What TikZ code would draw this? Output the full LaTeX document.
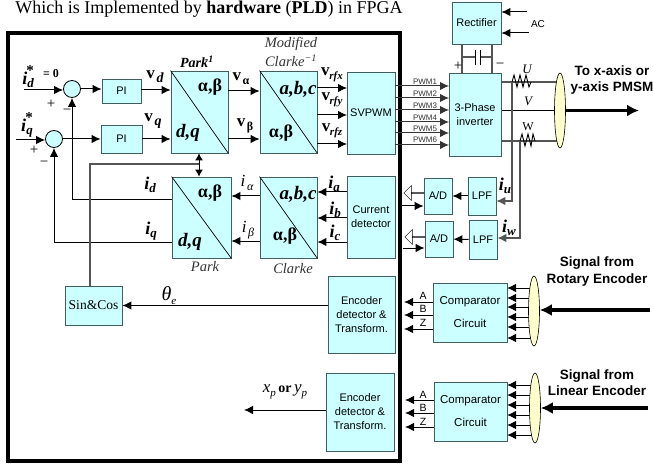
\documentclass[tikz,border=0pt]{standalone}
\usepackage{fontspec}
\setmainfont{Liberation Serif}
\setsansfont{Liberation Sans}
\usetikzlibrary{arrows.meta,backgrounds,shapes.arrows,shapes.geometric}
\definecolor{cyanfill}{HTML}{CCFFFF}
\definecolor{creamfill}{HTML}{FFFFCC}
\definecolor{edgegrey}{HTML}{3F5F5F}
\definecolor{wiregrey}{HTML}{555555}
\newcommand{\isub}[2]{{\fontsize{18}{18}\selectfont\bfseries\itshape #1}\raisebox{-3pt}{\fontsize{13}{13}\selectfont\bfseries\itshape #2}}
\newcommand{\vsub}[2]{{\fontsize{17}{17}\selectfont\bfseries v}\,\raisebox{-4pt}{\fontsize{#1}{#1}\selectfont\bfseries #2}}
\newcommand{\thinsub}[2]{{\fontsize{17}{17}\selectfont\itshape #1}\,\raisebox{-4pt}{\fontsize{12}{12}\selectfont\itshape #2}}
\tikzset{
  blk/.style={draw=edgegrey, fill=cyanfill, line width=.8pt, inner sep=0pt, align=center, font=\sffamily\fontsize{11}{14}\selectfont},
  sumj/.style={circle, draw=black, fill=cyanfill, line width=.8pt, minimum size=17pt, inner sep=0pt},
  lens/.style={ellipse, draw=black, fill=creamfill, line width=.6pt, inner sep=0pt, minimum width=11pt},
  arr/.style={-{Latex[length=9pt,width=8.5pt]}, line width=1pt},
  bigarr/.style={-{Latex[length=12pt,width=12pt]}, line width=3.2pt},
  wire/.style={draw=wiregrey, line width=1.1pt},
  lab/.style={inner sep=0pt},
  symb/.style={inner sep=0pt, font=\fontsize{18}{18}\selectfont\bfseries},
  abc/.style={inner sep=0pt, font=\fontsize{19}{19}\selectfont\bfseries\itshape},
  capt/.style={inner sep=0pt, align=center, font=\fontsize{14.5}{18}\selectfont\itshape, text=black!80},
  pwm/.style={inner sep=0pt, font=\sffamily\fontsize{8}{8}\selectfont, text=black!80},
  tiny/.style={inner sep=0pt, font=\sffamily\fontsize{10.5}{10.5}\selectfont},
  head/.style={inner sep=0pt, align=center, font=\sffamily\bfseries\fontsize{13.5}{16.5}\selectfont},
  hollow/.style={single arrow, draw=black, fill=white, shape border rotate=180, minimum height=20pt, minimum width=15pt, single arrow head extend=4pt, inner sep=0pt},
}
\begin{document}
\begin{tikzpicture}[x=1pt,y=-1pt]
  \useasboundingbox (0,0) rectangle (653,465);

  % Frame and heading
  \node[draw, line width=4pt, inner sep=0pt, minimum width=392pt, minimum height=428pt] at (204,247) (frame) {};
  \node[inner sep=0pt, font=\fontsize{18}{18}\selectfont] at (209,9) (title) {Which is Implemented by \textbf{hardware} (\textbf{PLD}) in FPGA};

  % Nodes
  \node[sumj] at (72,89) (sumd) {};
  \node[sumj] at (54,139) (sumq) {};
  \node[blk, minimum width=39pt, minimum height=24pt] at (121.5,91) (pid) {PI};
  \node[blk, minimum width=41pt, minimum height=28pt] at (121.5,139) (piq) {PI};
  \node[blk, minimum width=57pt, minimum height=82pt] at (199.5,112) (parkinv) {};
  \node[blk, minimum width=57pt, minimum height=82pt] at (288.5,112) (mclarke) {};
  \node[blk, minimum width=48pt, minimum height=82pt] at (371,113) (svpwm) {SVPWM};
  \node[blk, minimum width=49pt, minimum height=42pt] at (476.5,23) (rect) {Rectifier};
  \node[blk, minimum width=52pt, minimum height=83pt] at (475,114.5) (inv) {3-Phase\\inverter};
  \node[blk, minimum width=59pt, minimum height=81pt] at (201.5,217.5) (park) {};
  \node[blk, minimum width=57pt, minimum height=81pt] at (288.5,217.5) (clarke) {};
  \node[blk, minimum width=48pt, minimum height=82pt] at (371,217) (curdet) {Current\\detector};
  \node[blk, minimum width=67pt, minimum height=77pt] at (361.5,314.5) (enca) {Encoder\\detector \&\\Transform.};
  \node[blk, minimum width=68pt, minimum height=78pt] at (360,412) (encb) {Encoder\\detector \&\\Transform.};
  \node[blk, minimum width=57pt, minimum height=39pt, font=\rmfamily\fontsize{13.5}{14}\selectfont] at (93.5,305.5) (sincos) {Sin\&Cos};
  \node[blk, minimum width=28pt, minimum height=36pt] at (438,196) (adu) {A/D};
  \node[blk, minimum width=28pt, minimum height=38pt] at (482,196) (lpfu) {LPF};
  \node[blk, minimum width=28pt, minimum height=36pt] at (439,239) (adw) {A/D};
  \node[blk, minimum width=28pt, minimum height=39pt] at (483,239.5) (lpfw) {LPF};
  \node[blk, minimum width=74pt, minimum height=59pt, font=\sffamily\fontsize{11.5}{23}\selectfont] at (470,312.5) (compa) {Comparator\\Circuit};
  \node[blk, minimum width=73pt, minimum height=59pt, font=\sffamily\fontsize{11.5}{23}\selectfont] at (470.5,411.5) (compb) {Comparator\\Circuit};
  \node[lens, minimum height=75pt] at (560,110.5) (lensm) {};
  \node[lens, minimum height=70pt] at (534,311) (lensa) {};
  \node[lens, minimum height=70pt] at (535,408) (lensb) {};
  \node[hollow] at (414,193) (holu) {};
  \node[hollow] at (415,237) (holw) {};

  % Free ends
  \coordinate (idin) at (24,90);
  \coordinate (iqin) at (16,140);
  \coordinate (acup) at (527,12);
  \coordinate (aclo) at (529,33);
  \coordinate (sensu) at (512,82);
  \coordinate (sensw) at (520,141);
  \coordinate (iu) at (512,201);
  \coordinate (iw) at (520,238);
  \coordinate (thetabus) at (90,164);
  \coordinate (dpos) at (199,164);
  \coordinate (solu) at (402,206);
  \coordinate (solw) at (403,248);
  \coordinate (xout) at (244,410);
  \coordinate (rotin) at (650,310);
  \coordinate (linin) at (648,408);
  \coordinate (pmsm) at (639,110.5);

  % Diagonals
  \draw[line width=.7pt] (parkinv.north west) -- (parkinv.south east);
  \draw[line width=.7pt] (mclarke.north west) -- (mclarke.south east);
  \draw[line width=.7pt] (park.north west) -- (park.south east);
  \draw[line width=.7pt] (clarke.north west) -- (clarke.south east);

  % Controller
  \draw[arr] (idin) -- (sumd.west |- idin);
  \draw[arr] (iqin) -- (sumq.west |- iqin);
  \draw[arr] (sumd) -- (pid.west |- sumd);
  \draw[arr] (sumq) -- (piq);
  \draw[arr] (pid.east |- idin) -- (parkinv.west |- idin);
  \draw[arr] (piq) -- (parkinv.west |- piq);
  \draw[arr] (parkinv.east |- pid) -- (mclarke.west |- pid);
  \draw[arr] (parkinv.east |- piq) -- (mclarke.west |- piq);
  \coordinate (rfx) at (347,88);
  \coordinate (rfy) at (347,115);
  \coordinate (rfz) at (347,144);
  \draw[arr] (mclarke.east |- rfx) -- (rfx);
  \draw[arr] (mclarke.east |- rfy) -- (rfy);
  \draw[arr] (mclarke.east |- rfz) -- (rfz);

  % Feedback
  \coordinate (fbd) at (172,200);
  \coordinate (fbq) at (172,242);
  \draw[arr] (fbd) -- (sumd.south |- fbd) -- (sumd.south);
  \draw[arr] (fbq) -- (sumq.south |- fbq) -- (sumq.south);
  \draw[wire] (sincos.north -| thetabus) -- (thetabus) -- (dpos);
  \draw[{Latex[length=7pt,width=8pt]}-{Latex[length=7pt,width=8pt]}, line width=1pt] (parkinv.south -| dpos) -- (park.north -| dpos);
  \coordinate (ia) at (347,192);
  \coordinate (ib) at (347,218);
  \coordinate (ic) at (347,242);
  \coordinate (ial) at (260,196);
  \coordinate (ibe) at (260,241);
  \draw[arr] (ia) -- (clarke.east |- ia);
  \draw[arr] (ib) -- (clarke.east |- ib);
  \draw[arr] (ic) -- (clarke.east |- ic);
  \draw[arr] (ial) -- (park.east |- ial);
  \draw[arr] (ibe) -- (park.east |- ibe);

  % Inverter and sensing
  \coordinate (p1) at (449,86);
  \coordinate (p2) at (449,98);
  \coordinate (p3) at (449,110);
  \coordinate (p4) at (449,122);
  \coordinate (p5) at (449,133);
  \coordinate (p6) at (449,145);
  \draw[arr, draw=black!80] (svpwm.east |- p1) -- (p1);
  \draw[arr, draw=black!80] (svpwm.east |- p2) -- (p2);
  \draw[arr, draw=black!80] (svpwm.east |- p3) -- (p3);
  \draw[arr, draw=black!80] (svpwm.east |- p4) -- (p4);
  \draw[arr, draw=black!80] (svpwm.east |- p5) -- (p5);
  \draw[arr, draw=black!80] (svpwm.east |- p6) -- (p6);
  \begin{scope}[on background layer]
    \draw[wire] (inv.east |- sensu) -- (lensm.center |- sensu);
    \draw[line width=1pt] (inv.east |- lensm) -- (lensm);
    \draw[wire] (inv.east |- sensw) -- (lensm.center |- sensw);
  \end{scope}
  \draw[line width=.9pt] (512,82) -- ++(2,-7) -- ++(3,12) -- ++(3,-12) -- ++(3,12) -- ++(3,-12) -- ++(3,12) -- ++(2,-5);
  \draw[line width=.9pt] (520,141) -- ++(2,-7) -- ++(3,12) -- ++(3,-12) -- ++(3,12) -- ++(2,-12) -- ++(2,7);
  \draw[arr, wire] (sensu) -- (iu) -- (lpfu.east |- iu);
  \draw[arr, wire] (sensw) -- (iw) -- (lpfw.east |- iw);
  \draw[arr] (lpfu) -- (adu);
  \draw[arr] (lpfw) -- (adw);
  \draw[arr] (solu) -- (adu.west |- solu);
  \draw[arr] (solw) -- (adw.west |- solw);
  \draw[bigarr] (lensm.east) -- (pmsm);

  % Rectifier and capacitor
  \coordinate (capl) at (475,57);
  \coordinate (capr) at (480,57);
  \draw[arr] (acup) -- (rect.east |- acup);
  \draw[arr] (aclo) -- (rect.east |- aclo);
  \draw[wire] (462,44) -- (462,73);
  \draw[wire] (492,44) -- (492,73);
  \draw[wire] (462,57) -- (capl);
  \draw[wire] (capr) -- (492,57);
  \draw[line width=1pt] (475,50) -- (475,65);
  \draw[line width=1pt] (480,50) -- (480,65);

  % Encoders
  \coordinate (ca) at (433,302);
  \coordinate (cb) at (433,315);
  \coordinate (cz) at (433,329);
  \coordinate (da) at (434,400);
  \coordinate (db) at (434,413);
  \coordinate (dz) at (434,427);
  \draw[arr] (enca.west |- sincos) -- (sincos.east);
  \draw[arr] (encb.west |- xout) -- (xout);
  \draw[arr] (ca) -- (404,302);
  \draw[arr] (cb) -- (404,315);
  \draw[arr] (cz) -- (404,329);
  \draw[arr] (da) -- (405,400);
  \draw[arr] (db) -- (405,413);
  \draw[arr] (dz) -- (405,427);
  \coordinate (ra1) at (507,288);
  \coordinate (ra2) at (507,298);
  \coordinate (ra3) at (507,307);
  \coordinate (ra4) at (507,317);
  \coordinate (ra5) at (507,327);
  \coordinate (ra6) at (507,338);
  \coordinate (rb1) at (507,385);
  \coordinate (rb2) at (507,395);
  \coordinate (rb3) at (507,405);
  \coordinate (rb4) at (507,415);
  \coordinate (rb5) at (507,425);
  \coordinate (rb6) at (507,435);
  \begin{scope}[on background layer]
    \draw[arr] (lensa.center |- ra1) -- (ra1);
    \draw[arr] (lensa.center |- ra2) -- (ra2);
    \draw[arr] (lensa.center |- ra3) -- (ra3);
    \draw[arr] (lensa.center |- ra4) -- (ra4);
    \draw[arr] (lensa.center |- ra5) -- (ra5);
    \draw[arr] (lensa.center |- ra6) -- (ra6);
    \draw[arr] (lensb.center |- rb1) -- (rb1);
    \draw[arr] (lensb.center |- rb2) -- (rb2);
    \draw[arr] (lensb.center |- rb3) -- (rb3);
    \draw[arr] (lensb.center |- rb4) -- (rb4);
    \draw[arr] (lensb.center |- rb5) -- (rb5);
    \draw[arr] (lensb.center |- rb6) -- (rb6);
  \end{scope}
  \draw[bigarr] (rotin) -- (lensa.east |- rotin);
  \draw[bigarr] (linin) -- (lensb.east |- linin);

  % Labels
  \node[lab] at (28,77) (lidstar) {\isub{i}{d}\llap{\raisebox{9pt}{\bfseries\fontsize{15}{15}\selectfont *}}};
  \node[lab, font=\bfseries\fontsize{12}{12}\selectfont] at (51,74) (lzero) {= 0};
  \node[lab] at (27,125) (liqstar) {\isub{i}{q}\llap{\raisebox{9pt}{\bfseries\fontsize{15}{15}\selectfont *}}};
  \node[lab, font=\fontsize{15}{15}\selectfont] at (51,104) (lplusd) {+};
  \node[lab, font=\fontsize{15}{15}\selectfont] at (67,112) (lminusd) {\textminus};
  \node[lab, font=\fontsize{15}{15}\selectfont] at (34,150) (lplusq) {+};
  \node[lab, font=\fontsize{15}{15}\selectfont] at (44,164) (lminusq) {\textminus};
  \node[lab] at (155,77) (lvd) {\vsub{14}{\itshape d}};
  \node[lab] at (153,121) (lvq) {\vsub{14}{\itshape q}};
  \node[lab, font=\bfseries\itshape\fontsize{14}{14}\selectfont] at (197,62) (lparkinv) {Park\kern-3pt\textsuperscript{-1}};
  \node[symb] at (210,87) (lpiab) {α,β};
  \node[abc] at (188,133) (lpidq) {d,q};
  \node[lab] at (241,79) (lva) {\vsub{12}{α}};
  \node[lab] at (245,126) (lvb) {\vsub{12}{β}};
  \node[capt] at (291,52) (lmclarke) {Modified\\[1pt]Clarke\textsuperscript{\textminus1}};
  \node[abc] at (298,89) (lmabc) {a,b,c};
  \node[symb] at (281,133) (lmab) {α,β};
  \node[lab] at (332,75) (lrfx) {\vsub{11}{\itshape\kern-2pt rfx}};
  \node[lab] at (332,100) (lrfy) {\vsub{11}{\itshape\kern-2pt rfy}};
  \node[lab] at (332,131) (lrfz) {\vsub{11}{\itshape\kern-2pt rfz}};
  \node[pwm] at (425,82) (lp1) {PWM1};
  \node[pwm] at (425,94) (lp2) {PWM2};
  \node[pwm] at (425,106) (lp3) {PWM3};
  \node[pwm] at (425,118) (lp4) {PWM4};
  \node[pwm] at (425,129) (lp5) {PWM5};
  \node[pwm] at (425,140) (lp6) {PWM6};
  \node[lab, font=\fontsize{15}{15}\selectfont] at (458,66) (lcplus) {+};
  \node[lab, font=\fontsize{15}{15}\selectfont] at (500,66) (lcminus) {\textminus};
  \node[lab, font=\sffamily\fontsize{10}{10}\selectfont] at (538,24) (lac) {AC};
  \node[lab, font=\itshape\fontsize{13}{13}\selectfont] at (527,69) (lu) {U};
  \node[lab, font=\itshape\fontsize{13}{13}\selectfont] at (528,101) (lv) {V};
  \node[lab, font=\fontsize{12}{12}\selectfont] at (528,127) (lw) {W};
  \node[head] at (612,80) (lpmsm) {To x-axis or\\y-axis PMSM};
  \node[lab] at (150,185) (lid) {\isub{i}{d}};
  \node[lab] at (151,231) (liq) {\isub{i}{q}};
  \node[symb] at (210,193) (lpab) {α,β};
  \node[abc] at (190,242) (lpdq) {d,q};
  \node[capt] at (205,267) (lpark) {Park};
  \node[lab] at (247,183) (lial) {\thinsub{i}{α}};
  \node[lab] at (248,230) (libe) {\thinsub{i}{β}};
  \node[abc] at (298,194) (lcabc) {a,b,c};
  \node[symb] at (285,236) (lcab) {α,β};
  \node[capt] at (293,269) (lclarke) {Clarke};
  \node[lab] at (334,184) (lia) {\isub{i}{a}};
  \node[lab] at (335,210) (lib) {\isub{i}{b}};
  \node[lab] at (335,233) (lic) {\isub{i}{c}};
  \node[lab] at (505,186) (liu) {\isub{i}{u}};
  \node[lab] at (509,228) (liw) {\isub{i}{w}};
  \node[lab] at (169,296) (ltheta) {{\fontsize{20}{20}\selectfont\itshape θ}\raisebox{-4pt}{\fontsize{11}{11}\selectfont\itshape e}};
  \node[lab] at (285,392) (lxy) {{\fontsize{17}{17}\selectfont\itshape x}\raisebox{-4pt}{\fontsize{11}{11}\selectfont\itshape p} {\fontsize{14}{14}\selectfont\bfseries or} {\fontsize{17}{17}\selectfont\itshape y}\raisebox{-4pt}{\fontsize{11}{11}\selectfont\itshape p}};
  \node[tiny] at (423,296) (lca) {A};
  \node[tiny] at (423,309) (lcb) {B};
  \node[tiny] at (423,323) (lcz) {Z};
  \node[tiny] at (423,395) (lda) {A};
  \node[tiny] at (423,408) (ldb) {B};
  \node[tiny] at (423,422) (ldz) {Z};
  \node[head] at (597,271.5) (lrot) {Signal from\\Rotary Encoder};
  \node[head] at (597,382.5) (llin) {Signal from\\Linear Encoder};
\end{tikzpicture}
\end{document}
